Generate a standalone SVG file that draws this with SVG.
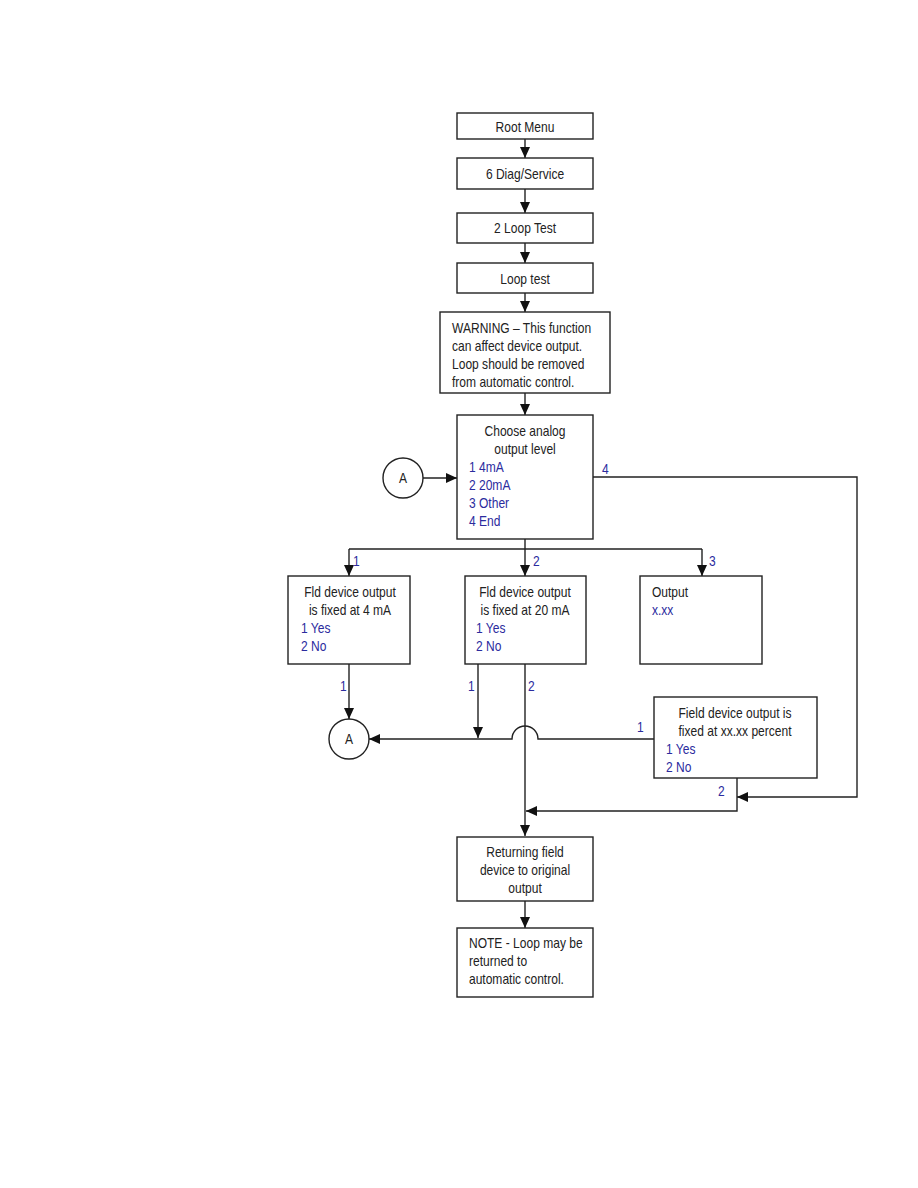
<svg xmlns="http://www.w3.org/2000/svg" width="918" height="1188" viewBox="0 0 918 1188">
<style>
.box{fill:#fff;stroke:#222;stroke-width:1.4}
.ln{fill:none;stroke:#222;stroke-width:1.4}
text{font-family:"Liberation Sans",Arial,sans-serif;font-size:14px;fill:#222}
.c{text-anchor:middle}
.b{fill:#2b2b9e}
</style>
<defs>
<marker id="ah" markerUnits="userSpaceOnUse" markerWidth="12" markerHeight="10" refX="11" refY="5" orient="auto">
<path d="M0,0 L11,5 L0,10 Z" fill="#111"/>
</marker>
</defs>
<rect width="918" height="1188" fill="#fff"/>
<g id="connectors">
<path class="ln" d="M525,139 V158" marker-end="url(#ah)"/>
<path class="ln" d="M525,189 V213" marker-end="url(#ah)"/>
<path class="ln" d="M525,243 V263" marker-end="url(#ah)"/>
<path class="ln" d="M525,293 V312" marker-end="url(#ah)"/>
<path class="ln" d="M525,393 V415" marker-end="url(#ah)"/>
<path class="ln" d="M423,478 H457" marker-end="url(#ah)"/>
<path class="ln" d="M525,539 V549 M349,549 H702"/>
<path class="ln" d="M349,549 V576" marker-end="url(#ah)"/>
<path class="ln" d="M525,549 V576" marker-end="url(#ah)"/>
<path class="ln" d="M702,549 V576" marker-end="url(#ah)"/>
<path class="ln" d="M593,477 H857 V797 H737" marker-end="url(#ah)"/>
<path class="ln" d="M349,664 V719" marker-end="url(#ah)"/>
<path class="ln" d="M478,664 V738" marker-end="url(#ah)"/>
<path class="ln" d="M525,664 V836" marker-end="url(#ah)"/>
<path class="ln" d="M654,739 H538 A13,13 0 0 0 512,739 H369" marker-end="url(#ah)"/>
<path class="ln" d="M737,778 V811 H526" marker-end="url(#ah)"/>
<path class="ln" d="M525,901 V928" marker-end="url(#ah)"/>
<g transform="scale(0.86 1)">
<text class="b" x="410.5" y="566">1</text>
<text class="b" x="619.8" y="566">2</text>
<text class="b" x="824.4" y="566">3</text>
<text class="b" x="700" y="474">4</text>
<text class="b" x="395.3" y="691">1</text>
<text class="b" x="544.2" y="691">1</text>
<text class="b" x="614" y="691">2</text>
<text class="b" x="740.7" y="732">1</text>
<text class="b" x="834.9" y="796">2</text>
</g>
</g>
<g id="root-menu">
<rect class="box" x="457" y="113" width="136" height="26"/>
<g transform="scale(0.86 1)"><text class="c" x="610.5" y="132">Root Menu</text></g>
</g>
<g id="diag-service">
<rect class="box" x="457" y="158" width="136" height="31"/>
<g transform="scale(0.86 1)"><text class="c" x="610.5" y="179">6 Diag/Service</text></g>
</g>
<g id="loop-test-menu">
<rect class="box" x="457" y="213" width="136" height="30"/>
<g transform="scale(0.86 1)"><text class="c" x="610.5" y="233">2 Loop Test</text></g>
</g>
<g id="loop-test">
<rect class="box" x="457" y="263" width="136" height="30"/>
<g transform="scale(0.86 1)"><text class="c" x="610.5" y="284">Loop test</text></g>
</g>
<g id="warning">
<rect class="box" x="440" y="312" width="170" height="81"/>
<g transform="scale(0.86 1)">
<text x="525.6" y="333">WARNING – This function</text>
<text x="525.6" y="351">can affect device output.</text>
<text x="525.6" y="369">Loop should be removed</text>
<text x="525.6" y="387">from automatic control.</text>
</g>
</g>
<g id="choose-level">
<rect class="box" x="457" y="415" width="136" height="124"/>
<g transform="scale(0.86 1)">
<text class="c" x="610.5" y="436">Choose analog</text>
<text class="c" x="610.5" y="454">output level</text>
<text class="b" x="545.3" y="472">1 4mA</text>
<text class="b" x="545.3" y="490">2 20mA</text>
<text class="b" x="545.3" y="508">3 Other</text>
<text class="b" x="545.3" y="526">4 End</text>
</g>
</g>
<g id="connector-a-top">
<circle class="box" cx="403" cy="478" r="20"/>
<g transform="scale(0.86 1)"><text class="c" x="468.6" y="483">A</text></g>
</g>
<g id="fixed-4ma">
<rect class="box" x="288" y="576" width="122" height="88"/>
<g transform="scale(0.86 1)">
<text class="c" x="407" y="597">Fld device output</text>
<text class="c" x="407" y="615">is fixed at 4 mA</text>
<text class="b" x="350" y="633">1 Yes</text>
<text class="b" x="350" y="651">2 No</text>
</g>
</g>
<g id="fixed-20ma">
<rect class="box" x="465" y="576" width="121" height="88"/>
<g transform="scale(0.86 1)">
<text class="c" x="610.5" y="597">Fld device output</text>
<text class="c" x="610.5" y="615">is fixed at 20 mA</text>
<text class="b" x="553.5" y="633">1 Yes</text>
<text class="b" x="553.5" y="651">2 No</text>
</g>
</g>
<g id="output">
<rect class="box" x="640" y="576" width="122" height="88"/>
<g transform="scale(0.86 1)">
<text x="758.1" y="597">Output</text>
<text class="b" x="758.1" y="615">x.xx</text>
</g>
</g>
<g id="fixed-percent">
<rect class="box" x="654" y="697" width="163" height="81"/>
<g transform="scale(0.86 1)">
<text class="c" x="854.7" y="718">Field device output is</text>
<text class="c" x="854.7" y="736">fixed at xx.xx percent</text>
<text class="b" x="774.4" y="754">1 Yes</text>
<text class="b" x="774.4" y="772">2 No</text>
</g>
</g>
<g id="connector-a-bottom">
<circle class="box" cx="349" cy="739" r="20"/>
<g transform="scale(0.86 1)"><text class="c" x="405.8" y="744">A</text></g>
</g>
<g id="returning">
<rect class="box" x="457" y="837" width="136" height="64"/>
<g transform="scale(0.86 1)">
<text class="c" x="610.5" y="857">Returning field</text>
<text class="c" x="610.5" y="875">device to original</text>
<text class="c" x="610.5" y="893">output</text>
</g>
</g>
<g id="note">
<rect class="box" x="457" y="928" width="136" height="69"/>
<g transform="scale(0.86 1)">
<text x="545.3" y="948">NOTE - Loop may be</text>
<text x="545.3" y="966">returned to</text>
<text x="545.3" y="984">automatic control.</text>
</g>
</g>
</svg>
